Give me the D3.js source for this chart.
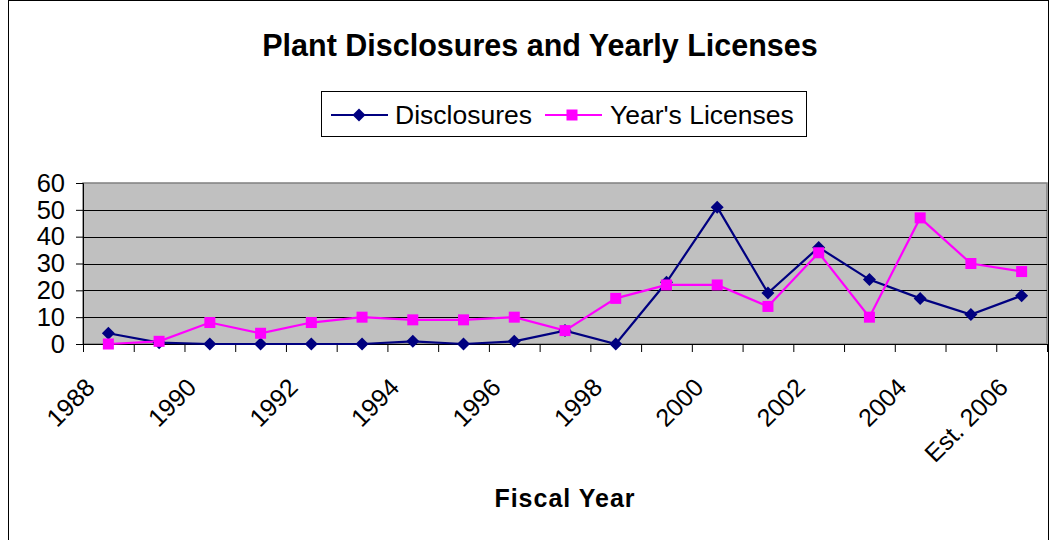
<!DOCTYPE html>
<html>
<head>
<meta charset="utf-8">
<script src="https://cdn.jsdelivr.net/npm/d3@7"></script>
<style>
  body { margin: 0; background: #fff; }
  text { font-family: "Liberation Sans", Arial, sans-serif; }
</style>
</head>
<body>
<svg id="chart" width="1055" height="540"></svg>
<script>
// categories on the x axis
const years = ["1988", "1989", "1990", "1991", "1992", "1993", "1994", "1995", "1996",
  "1997", "1998", "1999", "2000", "2001", "2002", "2003", "2004", "2005", "Est. 2006"];
// only every other year gets a label
const yearLabels = ["1988", "1990", "1992", "1994", "1996", "1998", "2000", "2002", "2004", "Est. 2006"];

// series values
const disclosures = [4, 0.5, 0, 0, 0, 0, 1, 0, 1, 5, 0, 23, 51, 19, 36, 24, 17, 11, 18];
const licenses = [0, 1, 8, 4, 8, 10, 9, 9, 10, 5, 17, 22, 22, 14, 34, 10, 47, 30, 27];

const yTicks = [0, 10, 20, 30, 40, 50, 60];

var svg = d3.select('#chart');

var plot = { l: 83, r: 1047, t: 183, b: 344 };

// outer chart frame
svg.append('rect')
  .attr('x', 8.5).attr('y', 0.5)
  .attr('width', 1040).attr('height', 600)
  .attr('fill', 'none').attr('stroke', '#000');

// title
svg.append('text')
  .attr('x', 540).attr('y', 56)
  .attr('text-anchor', 'middle')
  .attr('font-size', '30.5px').attr('font-weight', 'bold')
  .text('Plant Disclosures and Yearly Licenses');

// scales
var xBand = d3.scaleBand().domain(years).range([plot.l, plot.r]);
var xIdx = d3.scaleLinear().domain([0, years.length]).range([plot.l, plot.r]);
var y = d3.scaleLinear().domain([0, 60]).range([plot.b, plot.t]);
var cx = d => xBand(d) + xBand.bandwidth() / 2;

// plot background
svg.append('rect')
  .attr('x', plot.l).attr('y', plot.t)
  .attr('width', plot.r - plot.l).attr('height', plot.b - plot.t)
  .attr('fill', '#c0c0c0').attr('stroke', '#808080').attr('stroke-width', 1.5);

// gridlines
svg.append('g').selectAll('line')
  .data(yTicks.filter(v => v > 0 && v < 60))
  .enter().append('line')
  .attr('x1', plot.l).attr('x2', plot.r)
  .attr('y1', d => Math.round(y(d)) + 0.5).attr('y2', d => Math.round(y(d)) + 0.5)
  .attr('stroke', '#000');

// y axis
var yAxis = d3.axisLeft(y).tickValues(yTicks).tickSize(7).tickPadding(11);
var yG = svg.append('g')
  .attr('transform', `translate(${plot.l}, 0)`)
  .call(yAxis);
yG.selectAll('text').attr('font-size', '25.5px').attr('fill', '#000')
  .style('font-family', '"Liberation Sans", Arial, sans-serif');
yG.selectAll('line, path').attr('stroke', '#000');

// x axis, ticks on category boundaries
var xAxis = d3.axisBottom(xIdx).tickValues(d3.range(years.length + 1))
  .tickSize(8).tickFormat('');
var xG = svg.append('g')
  .attr('transform', `translate(0, ${plot.b})`)
  .call(xAxis);
xG.selectAll('line, path').attr('stroke', '#000');

// rotated year labels
svg.append('g').selectAll('text')
  .data(yearLabels)
  .enter().append('text')
  .attr('text-anchor', 'end')
  .attr('font-size', '25px')
  .attr('transform', d => `translate(${cx(d) - 12}, 389) rotate(-45)`)
  .text(d => d);

// x axis title
svg.append('text')
  .attr('x', (plot.l + plot.r) / 2).attr('y', 507)
  .attr('text-anchor', 'middle')
  .attr('font-size', '25px').attr('font-weight', 'bold')
  .attr('letter-spacing', '1px')
  .text('Fiscal Year');

// lines
var line = d3.line().x((d, i) => cx(years[i])).y(d => y(d));

svg.append('path').datum(disclosures)
  .attr('d', line).attr('fill', 'none')
  .attr('stroke', '#000080').attr('stroke-width', 2.2);
svg.append('path').datum(licenses)
  .attr('d', line).attr('fill', 'none')
  .attr('stroke', '#ff00ff').attr('stroke-width', 2.2);

var diamond = 'M0,-6.5L6.5,0L0,6.5L-6.5,0Z';

svg.append('g').selectAll('path')
  .data(disclosures)
  .enter().append('path')
  .attr('d', diamond)
  .attr('transform', (d, i) => `translate(${cx(years[i])}, ${y(d)})`)
  .attr('fill', '#000080');

svg.append('g').selectAll('rect')
  .data(licenses)
  .enter().append('rect')
  .attr('x', (d, i) => cx(years[i]) - 5.5)
  .attr('y', d => y(d) - 5.5)
  .attr('width', 11).attr('height', 11)
  .attr('fill', '#ff00ff');

// legend
var leg = svg.append('g');
leg.append('rect')
  .attr('x', 321.5).attr('y', 91.5)
  .attr('width', 485).attr('height', 45)
  .attr('fill', '#fff').attr('stroke', '#000');

leg.append('line')
  .attr('x1', 331).attr('x2', 388).attr('y1', 115).attr('y2', 115)
  .attr('stroke', '#000080').attr('stroke-width', 2);
leg.append('path').attr('d', diamond)
  .attr('transform', 'translate(359, 115)').attr('fill', '#000080');
leg.append('text')
  .attr('x', 395).attr('y', 124).attr('font-size', '26.5px')
  .text('Disclosures');

leg.append('line')
  .attr('x1', 545).attr('x2', 602).attr('y1', 115).attr('y2', 115)
  .attr('stroke', '#ff00ff').attr('stroke-width', 2);
leg.append('rect')
  .attr('x', 566.5).attr('y', 109.5).attr('width', 11).attr('height', 11)
  .attr('fill', '#ff00ff');
leg.append('text')
  .attr('x', 610).attr('y', 124).attr('font-size', '26.5px')
  .text("Year's Licenses");
</script>
</body>
</html>
